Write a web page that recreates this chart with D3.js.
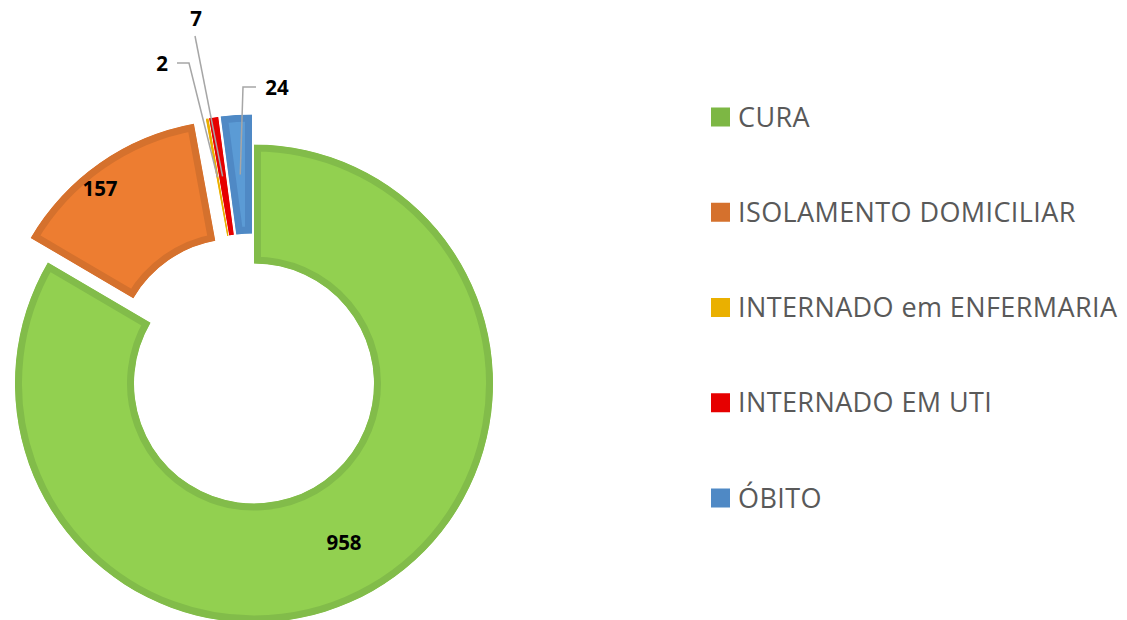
<!DOCTYPE html>
<html>
<head>
<meta charset="utf-8">
<script src="https://cdn.jsdelivr.net/npm/d3@7"></script>
<style>
  body { margin: 0; background: #fff; }
  svg { display: block; }
</style>
</head>
<body>
<div id="chart"></div>
<script>
// dados
const categorias = ['CURA', 'ISOLAMENTO DOMICILIAR', 'INTERNADO em ENFERMARIA', 'INTERNADO EM UTI', 'ÓBITO'];
const valores = [958, 157, 2, 7, 24];
const coresFill = ['#92D050', '#ED7D31', '#EAB000', '#E60000', '#5B9BD5'];
const coresBorda = ['#82BC4A', '#D5712D', '#EAB000', '#E60000', '#4F89C5'];
const coresLegenda = ['#7DB744', '#D5712D', '#EAB000', '#E60000', '#4F89C5'];
const destacado = [0, 30, 30, 30, 30];

const width = 1127;
const height = 620;

const svg = d3.select('#chart')
  .append('svg')
  .attr('width', width)
  .attr('height', height);

const cx = 254, cy = 383.5;
const rExt = 239, rInt = 120;

const pie = d3.pie().sort(null).value(d => d)(valores);
const arc = d3.arc().innerRadius(rInt).outerRadius(rExt);

const defs = svg.append('defs');
const gPie = svg.append('g').attr('transform', `translate(${cx},${cy})`);

// fatias (com borda interna)
const fatias = gPie.selectAll('.fatia')
  .data(pie)
  .enter()
  .append('g')
  .attr('class', 'fatia')
  .attr('transform', (d, i) => {
    const a = (d.startAngle + d.endAngle) / 2;
    return `translate(${destacado[i] * Math.sin(a)},${-destacado[i] * Math.cos(a)})`;
  });

fatias.each(function(d, i) {
  defs.append('clipPath').attr('id', 'clip' + i)
    .append('path').attr('d', arc(d));
});

fatias.append('path')
  .attr('d', arc)
  .attr('fill', (d, i) => coresFill[i])
  .attr('stroke', (d, i) => coresBorda[i])
  .attr('stroke-width', 14)
  .attr('clip-path', (d, i) => `url(#clip${i})`);

// rótulos dentro das fatias grandes
const rotulosDentro = [[344, 543], [100, 189]];
svg.selectAll('.rotulo-dentro')
  .data(rotulosDentro)
  .enter()
  .append('text')
  .attr('x', d => d[0])
  .attr('y', d => d[1])
  .attr('text-anchor', 'middle')
  .attr('dy', '0.35em')
  .style('font-family', 'Open Sans, sans-serif')
  .style('font-weight', 'bold')
  .style('font-size', '20.5px')
  .text((d, i) => valores[i]);

// rótulos com linhas guia (fatias pequenas)
const guias = [
  { i: 2, texto: [162, 64], linha: [[177, 63], [189, 63]] },
  { i: 3, texto: [196, 19], linha: [[195, 36]] },
  { i: 4, texto: [277, 88], linha: [[256, 87], [243, 87]] }
];
const rGuia = (rInt + rExt) / 2;
guias.forEach(g => {
  const d = pie[g.i];
  const a = (d.startAngle + d.endAngle) / 2;
  const off = destacado[g.i];
  const fim = [cx + (off + rGuia) * Math.sin(a), cy - (off + rGuia) * Math.cos(a)];
  svg.append('path')
    .attr('d', d3.line()(g.linha.concat([fim])))
    .attr('fill', 'none')
    .attr('stroke', '#A6A6A6')
    .attr('stroke-width', 1.5);
  svg.append('text')
    .attr('x', g.texto[0])
    .attr('y', g.texto[1])
    .attr('text-anchor', 'middle')
    .attr('dy', '0.35em')
    .style('font-family', 'Open Sans, sans-serif')
    .style('font-weight', 'bold')
    .style('font-size', '20.5px')
    .text(valores[g.i]);
});

// legenda
const legendaY = d3.scalePoint().domain(categorias).range([117, 498]);
const legenda = svg.append('g').attr('class', 'legenda');
const itens = legenda.selectAll('g')
  .data(categorias)
  .enter()
  .append('g')
  .attr('transform', d => `translate(711,${legendaY(d)})`);

itens.append('rect')
  .attr('x', 0)
  .attr('y', -9.5)
  .attr('width', 19)
  .attr('height', 19)
  .attr('fill', (d, i) => coresLegenda[i]);

itens.append('text')
  .attr('x', 27)
  .attr('dy', '0.36em')
  .style('font-family', 'Open Sans, sans-serif')
  .style('font-size', '27px')
  .style('letter-spacing', '0.4px')
  .style('fill', '#595959')
  .text(d => d);
</script>
</body>
</html>
